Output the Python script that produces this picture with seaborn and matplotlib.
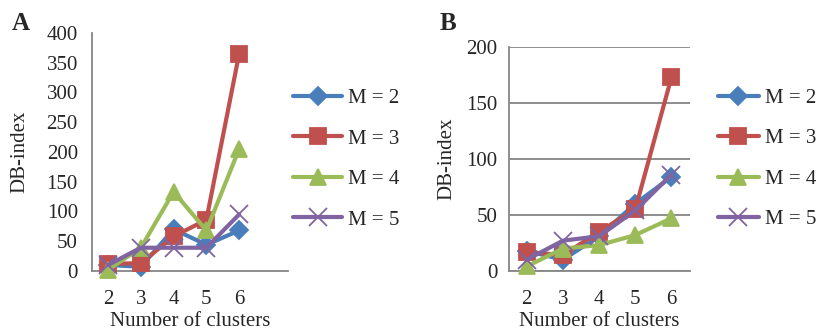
import numpy as np
import pandas as pd
import matplotlib
matplotlib.use("Agg")
import matplotlib.pyplot as plt
import seaborn as sns
from matplotlib.lines import Line2D

# Data
clusters = [2, 3, 4, 5, 6]
series_names = ["M = 2", "M = 3", "M = 4", "M = 5"]

a_m2 = [10, 7, 70, 44, 68]
a_m3 = [12, 13, 58, 86, 365]
a_m4 = [2, 39, 133, 68, 205]
a_m5 = [10, 39, 39, 39, 95]

b_m2 = [18, 10, 31, 60, 84]
b_m3 = [17, 14, 35, 55, 173]
b_m4 = [4, 20, 23, 32, 47]
b_m5 = [10, 27, 31, 54, 86]

colors = ["#4A7EBB", "#C0504D", "#9BBB59", "#8064A2"]
markers = ["D", "s", "^", "x"]
msizes = [9, 12, 12, 13]
FS = 15

sns.set_style("white")
plt.rcParams["font.family"] = ["Liberation Serif", "DejaVu Serif"]
plt.rcParams["font.size"] = FS


def draw_panel(ax, vals, ymax, ystep, xmax, grid, ypad, ylabpad,
               leg_x, leg_y, hlen):
    # seaborn won't mix filled and line markers in one call, so one call per series
    for name, v, c, m, ms in zip(series_names, vals, colors, markers, msizes):
        df = pd.DataFrame({"k": clusters, "DB": v})
        sns.lineplot(data=df, x="k", y="DB", color=c, marker=m,
                     markersize=ms, markeredgewidth=1.3,
                     markeredgecolor=c, linewidth=3, ax=ax, zorder=3,
                     clip_on=False)
    ax.set_xlim(1.5, xmax)
    ax.set_ylim(0, ymax)
    ax.set_yticks(np.arange(0, ymax + 1, ystep))
    ax.set_xticks(clusters)
    ax.set_xticks(np.arange(1.5, xmax + 0.01, 1), minor=True)
    ax.tick_params(axis="x", which="major", length=0, pad=14, labelsize=FS)
    ax.tick_params(axis="x", which="minor", length=5, color="#868686",
                   direction="out", width=1.2)
    ax.tick_params(axis="y", length=5, color="#868686", direction="out",
                   width=1.2, labelsize=FS, pad=ypad)
    for s in ["top", "right"]:
        ax.spines[s].set_visible(False)
    for s in ["left", "bottom"]:
        ax.spines[s].set_color("#868686")
        ax.spines[s].set_linewidth(1.3)
    if grid:
        ax.yaxis.grid(True, color="#868686", linewidth=1.3)
        ax.set_axisbelow(True)
    ax.set_xlabel("Number of clusters", fontsize=FS, labelpad=2)
    ax.set_ylabel("DB-index", fontsize=FS, labelpad=ylabpad)

    handles = [Line2D([], [], color=c, marker=m, markersize=ms,
                      linewidth=3, markeredgewidth=1.3)
               for c, m, ms in zip(colors, markers, msizes)]
    ax.legend(handles, series_names, loc="center left",
              bbox_to_anchor=(leg_x, leg_y), frameon=False,
              borderpad=0, borderaxespad=0,
              handlelength=hlen, labelspacing=1.0, handletextpad=0.25,
              fontsize=FS)


fig = plt.figure(figsize=(8.19, 3.30), dpi=100)
ax_a = fig.add_axes([0.112, 0.179, 0.240, 0.721])
ax_b = fig.add_axes([0.621, 0.179, 0.221, 0.679])

draw_panel(ax_a, [a_m2, a_m3, a_m4, a_m5], 400, 50, 7.5, False,
           5, 12, 1.026, 0.47, 2.35)
draw_panel(ax_b, [b_m2, b_m3, b_m4, b_m5], 200, 50, 6.5, True,
           3, 7, 1.155, 0.50, 2.0)

fig.text(0.014, 0.965, "A", fontsize=18, fontweight="bold", va="top")
fig.text(0.537, 0.965, "B", fontsize=18, fontweight="bold", va="top")

fig.savefig("out.png", dpi=100)
